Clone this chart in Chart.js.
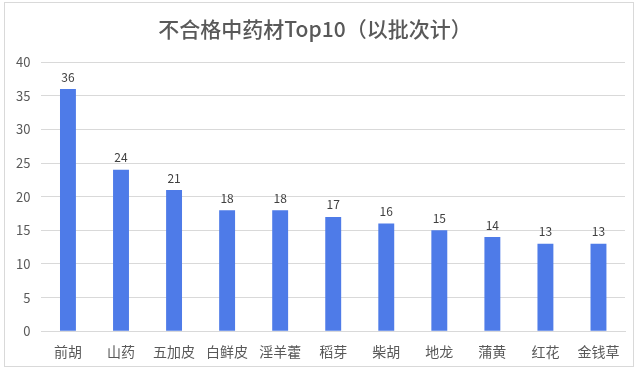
<!DOCTYPE html>
<html><head><meta charset="utf-8">
<script src="https://cdn.jsdelivr.net/npm/chart.js@4/dist/chart.umd.min.js"></script>
<style>
html,body{margin:0;padding:0;background:#fff;}
#wrap{position:absolute;left:4px;top:2px;width:630px;height:365px;border:1px solid #d9d9d9;box-sizing:border-box;}
</style></head><body>
<div id="wrap"><canvas id="c"></canvas></div>
<script>
const categories = ["前胡","山药","五加皮","白鲜皮","淫羊藿","稻芽","柴胡","地龙","蒲黄","红花","金钱草"];
const values = [36,24,21,18,18,17,16,15,14,13,13];
const yTicks = [0,5,10,15,20,25,30,35,40];
const titleText = "不合格中药材Top10（以批次计）";

const FONT = "'Noto Sans CJK SC','Noto Sans',sans-serif";
const labelPlugin = {
  id:'vlabels',
  afterDatasetsDraw(chart){
    const ctx = chart.ctx;
    const meta = chart.getDatasetMeta(0);
    ctx.save();
    ctx.font = "12px " + FONT;
    ctx.fillStyle = "#404040";
    ctx.textAlign = "center";
    ctx.textBaseline = "bottom";
    meta.data.forEach((el,i)=>{
      ctx.fillText(String(values[i]), el.x, el.y - 6);
    });
    ctx.restore();
  }
};
new Chart(document.getElementById('c'),{
  type:'bar',
  data:{labels:categories,datasets:[{data:values,backgroundColor:'#4e7be8',barPercentage:0.3,categoryPercentage:1}]},
  options:{
    responsive:true,maintainAspectRatio:false,animation:false,
    layout:{padding:{left:0,right:8,top:4,bottom:2}},
    plugins:{
      legend:{display:false},tooltip:{enabled:false},
      title:{display:true,text:titleText,color:'#595959',font:{family:FONT,size:21,weight:'500'},padding:{top:9,bottom:21}}
    },
    scales:{
      x:{grid:{display:false},border:{color:'#d9d9d9'},ticks:{color:'#595959',font:{family:FONT,size:14},padding:4}},
      y:{min:0,max:40,afterBuildTicks(s){s.ticks=yTicks.map(v=>({value:v}));},
         grid:{color:'#d9d9d9',drawTicks:false},border:{display:false},
         ticks:{color:'#595959',font:{family:FONT,size:13},padding:11}}
    }
  },
  plugins:[labelPlugin]
});
</script></body></html>
